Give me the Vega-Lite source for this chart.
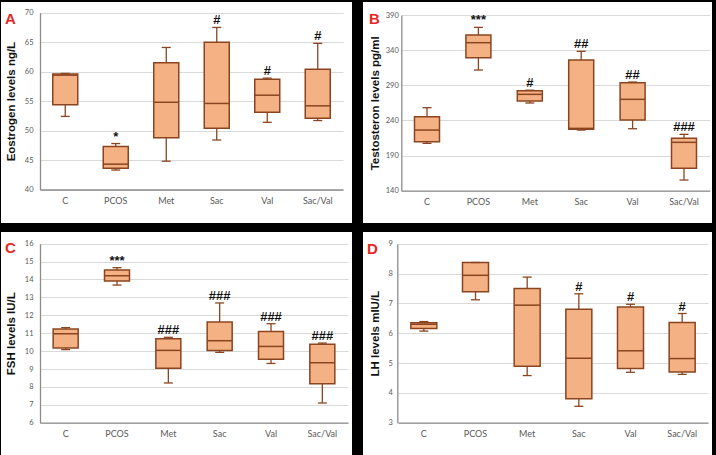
{
  "$schema": "https://vega.github.io/schema/vega-lite/v6.json",
  "background": "black",
  "padding": {"top": 2, "left": 1, "right": 4, "bottom": 0},
  "datasets": {
    "estrogen": [
      {"group": "C", "lo": 52.4, "q1": 54.4, "median": 59.4, "q3": 59.6, "hi": 59.7, "sig": ""},
      {"group": "PCOS", "lo": 43.3, "q1": 43.6, "median": 44.3, "q3": 47.3, "hi": 47.8, "sig": "*"},
      {"group": "Met", "lo": 44.8, "q1": 48.8, "median": 54.8, "q3": 61.5, "hi": 64.1, "sig": ""},
      {"group": "Sac", "lo": 48.4, "q1": 50.4, "median": 54.6, "q3": 65.0, "hi": 67.5, "sig": "#"},
      {"group": "Val", "lo": 51.4, "q1": 53.1, "median": 56.0, "q3": 58.7, "hi": 58.9, "sig": "#"},
      {"group": "Sac/Val", "lo": 51.7, "q1": 52.1, "median": 54.2, "q3": 60.4, "hi": 64.8, "sig": "#"}
    ],
    "testosterone": [
      {"group": "C", "lo": 207.4, "q1": 209.7, "median": 226.3, "q3": 245.3, "hi": 258.1, "sig": ""},
      {"group": "PCOS", "lo": 311.7, "q1": 329.3, "median": 350.6, "q3": 361.5, "hi": 372.4, "sig": "***"},
      {"group": "Met", "lo": 264.8, "q1": 267.6, "median": 277.1, "q3": 282.3, "hi": 283.0, "sig": "#"},
      {"group": "Sac", "lo": 226.3, "q1": 227.3, "median": 228.7, "q3": 326.0, "hi": 338.3, "sig": "##"},
      {"group": "Val", "lo": 228.2, "q1": 240.6, "median": 270.0, "q3": 293.7, "hi": 294.6, "sig": "##"},
      {"group": "Sac/Val", "lo": 155.2, "q1": 171.8, "median": 208.8, "q3": 214.5, "hi": 220.2, "sig": "###"}
    ],
    "fsh": [
      {"group": "C", "lo": 10.08, "q1": 10.17, "median": 10.97, "q3": 11.23, "hi": 11.31, "sig": ""},
      {"group": "PCOS", "lo": 13.69, "q1": 13.91, "median": 14.21, "q3": 14.53, "hi": 14.66, "sig": "***"},
      {"group": "Met", "lo": 8.22, "q1": 9.04, "median": 10.04, "q3": 10.69, "hi": 10.77, "sig": "###"},
      {"group": "Sac", "lo": 9.93, "q1": 10.04, "median": 10.58, "q3": 11.62, "hi": 12.69, "sig": "###"},
      {"group": "Val", "lo": 9.31, "q1": 9.54, "median": 10.26, "q3": 11.1, "hi": 11.53, "sig": "###"},
      {"group": "Sac/Val", "lo": 7.1, "q1": 8.18, "median": 9.35, "q3": 10.38, "hi": 10.45, "sig": "###"}
    ],
    "lh": [
      {"group": "C", "lo": 6.07, "q1": 6.16, "median": 6.3, "q3": 6.35, "hi": 6.39, "sig": ""},
      {"group": "PCOS", "lo": 7.12, "q1": 7.39, "median": 7.94, "q3": 8.37, "hi": 8.37, "sig": ""},
      {"group": "Met", "lo": 4.58, "q1": 4.89, "median": 6.94, "q3": 7.5, "hi": 7.88, "sig": ""},
      {"group": "Sac", "lo": 3.55, "q1": 3.8, "median": 5.16, "q3": 6.8, "hi": 7.32, "sig": "#"},
      {"group": "Val", "lo": 4.69, "q1": 4.82, "median": 5.41, "q3": 6.88, "hi": 6.97, "sig": "#"},
      {"group": "Sac/Val", "lo": 4.62, "q1": 4.7, "median": 5.15, "q3": 6.36, "hi": 6.66, "sig": "#"}
    ]
  },
  "vconcat": [
    {
      "hconcat": [
        {
          "width": 351, "height": 221,
          "data": {"name": "estrogen"},
          "title": {"text": "A", "dx": 4, "offset": -25},
          "encoding": {
            "x": {"field": "group", "type": "nominal", "sort": null,
                  "scale": {"range": [39, 342], "paddingInner": 0.5, "paddingOuter": 0.25},
                  "axis": {"title": null, "offset": -33.5}}
          },
          "layer": [
            {"mark": {"type": "rule", "color": "#8a4520", "strokeWidth": 1.3},
             "encoding": {
               "y": {"field": "lo", "type": "quantitative", "title": "Eostrogen levels ng/L",
                     "scale": {"domain": [40, 70], "range": [187.5, 10.7], "nice": false, "zero": false},
                     "axis": {"values": [40, 45, 50, 55, 60, 65, 70], "offset": -39}},
               "y2": {"field": "hi"}}},
            {"mark": {"type": "bar", "size": 25, "fill": "#f4b183", "stroke": "#8a4520", "strokeWidth": 1.5},
             "encoding": {"y": {"field": "q1", "type": "quantitative", "title": "Eostrogen levels ng/L",
                                "axis": {"values": [40, 45, 50, 55, 60, 65, 70], "offset": -39}}, "y2": {"field": "q3"}}},
            {"mark": {"type": "tick", "size": 25, "thickness": 1.5, "color": "#8a4520", "opacity": 1},
             "encoding": {"y": {"field": "median", "type": "quantitative", "title": "Eostrogen levels ng/L",
                                "axis": {"values": [40, 45, 50, 55, 60, 65, 70], "offset": -39}}}},
            {"mark": {"type": "tick", "size": 9, "thickness": 1.3, "color": "#8a4520", "opacity": 1},
             "encoding": {"y": {"field": "lo", "type": "quantitative", "title": "Eostrogen levels ng/L",
                                "axis": {"values": [40, 45, 50, 55, 60, 65, 70], "offset": -39}}}},
            {"mark": {"type": "tick", "size": 9, "thickness": 1.3, "color": "#8a4520", "opacity": 1},
             "encoding": {"y": {"field": "hi", "type": "quantitative", "title": "Eostrogen levels ng/L",
                                "axis": {"values": [40, 45, 50, 55, 60, 65, 70], "offset": -39}}}},
            {"mark": {"type": "text", "baseline": "alphabetic", "dy": -3, "fontSize": 13, "fontWeight": "bold", "font": "Liberation Sans", "color": "#111111"},
             "encoding": {"y": {"field": "hi", "type": "quantitative", "title": "Eostrogen levels ng/L",
                                "axis": {"values": [40, 45, 50, 55, 60, 65, 70], "offset": -39}}, "text": {"field": "sig"}}}
          ]
        },
        {
          "width": 349, "height": 221,
          "data": {"name": "testosterone"},
          "title": {"text": "B", "dx": 6, "offset": -25},
          "encoding": {
            "x": {"field": "group", "type": "nominal", "sort": null,
                  "scale": {"range": [38.3, 346.7], "paddingInner": 0.5, "paddingOuter": 0.25},
                  "axis": {"title": null, "offset": -32.3}}
          },
          "layer": [
            {"mark": {"type": "rule", "color": "#8a4520", "strokeWidth": 1.3},
             "encoding": {
               "y": {"field": "lo", "type": "quantitative", "title": "Testosteron levels pg/ml",
                     "scale": {"domain": [140, 390], "range": [188.7, 13], "nice": false, "zero": false},
                     "axis": {"values": [140, 190, 240, 290, 340, 390], "offset": -38.3, "labelPadding": 3, "titlePadding": 5}},
               "y2": {"field": "hi"}}},
            {"mark": {"type": "bar", "size": 25, "fill": "#f4b183", "stroke": "#8a4520", "strokeWidth": 1.5},
             "encoding": {"y": {"field": "q1", "type": "quantitative", "title": "Testosteron levels pg/ml",
                                "axis": {"values": [140, 190, 240, 290, 340, 390], "offset": -38.3, "labelPadding": 3, "titlePadding": 5}}, "y2": {"field": "q3"}}},
            {"mark": {"type": "tick", "size": 25, "thickness": 1.5, "color": "#8a4520", "opacity": 1},
             "encoding": {"y": {"field": "median", "type": "quantitative", "title": "Testosteron levels pg/ml",
                                "axis": {"values": [140, 190, 240, 290, 340, 390], "offset": -38.3, "labelPadding": 3, "titlePadding": 5}}}},
            {"mark": {"type": "tick", "size": 9, "thickness": 1.3, "color": "#8a4520", "opacity": 1},
             "encoding": {"y": {"field": "lo", "type": "quantitative", "title": "Testosteron levels pg/ml",
                                "axis": {"values": [140, 190, 240, 290, 340, 390], "offset": -38.3, "labelPadding": 3, "titlePadding": 5}}}},
            {"mark": {"type": "tick", "size": 9, "thickness": 1.3, "color": "#8a4520", "opacity": 1},
             "encoding": {"y": {"field": "hi", "type": "quantitative", "title": "Testosteron levels pg/ml",
                                "axis": {"values": [140, 190, 240, 290, 340, 390], "offset": -38.3, "labelPadding": 3, "titlePadding": 5}}}},
            {"mark": {"type": "text", "baseline": "alphabetic", "dy": -3, "fontSize": 13, "fontWeight": "bold", "font": "Liberation Sans", "color": "#111111"},
             "encoding": {"y": {"field": "hi", "type": "quantitative", "title": "Testosteron levels pg/ml",
                                "axis": {"values": [140, 190, 240, 290, 340, 390], "offset": -38.3, "labelPadding": 3, "titlePadding": 5}}, "text": {"field": "sig"}}}
          ]
        }
      ]
    },
    {
      "hconcat": [
        {
          "width": 351, "height": 223,
          "data": {"name": "fsh"},
          "title": {"text": "C", "dx": 4, "offset": -24},
          "encoding": {
            "x": {"field": "group", "type": "nominal", "sort": null,
                  "scale": {"range": [39, 347], "paddingInner": 0.5, "paddingOuter": 0.25},
                  "axis": {"title": null, "offset": -32.3}}
          },
          "layer": [
            {"mark": {"type": "rule", "color": "#8a4520", "strokeWidth": 1.3},
             "encoding": {
               "y": {"field": "lo", "type": "quantitative", "title": "FSH levels IU/L",
                     "scale": {"domain": [6, 16], "range": [190.7, 11.7], "nice": false, "zero": false},
                     "axis": {"values": [6, 7, 8, 9, 10, 11, 12, 13, 14, 15, 16], "offset": -39}},
               "y2": {"field": "hi"}}},
            {"mark": {"type": "bar", "size": 25, "fill": "#f4b183", "stroke": "#8a4520", "strokeWidth": 1.5},
             "encoding": {"y": {"field": "q1", "type": "quantitative", "title": "FSH levels IU/L",
                                "axis": {"values": [6, 7, 8, 9, 10, 11, 12, 13, 14, 15, 16], "offset": -39}}, "y2": {"field": "q3"}}},
            {"mark": {"type": "tick", "size": 25, "thickness": 1.5, "color": "#8a4520", "opacity": 1},
             "encoding": {"y": {"field": "median", "type": "quantitative", "title": "FSH levels IU/L",
                                "axis": {"values": [6, 7, 8, 9, 10, 11, 12, 13, 14, 15, 16], "offset": -39}}}},
            {"mark": {"type": "tick", "size": 9, "thickness": 1.3, "color": "#8a4520", "opacity": 1},
             "encoding": {"y": {"field": "lo", "type": "quantitative", "title": "FSH levels IU/L",
                                "axis": {"values": [6, 7, 8, 9, 10, 11, 12, 13, 14, 15, 16], "offset": -39}}}},
            {"mark": {"type": "tick", "size": 9, "thickness": 1.3, "color": "#8a4520", "opacity": 1},
             "encoding": {"y": {"field": "hi", "type": "quantitative", "title": "FSH levels IU/L",
                                "axis": {"values": [6, 7, 8, 9, 10, 11, 12, 13, 14, 15, 16], "offset": -39}}}},
            {"mark": {"type": "text", "baseline": "alphabetic", "dy": -3, "fontSize": 13, "fontWeight": "bold", "font": "Liberation Sans", "color": "#111111"},
             "encoding": {"y": {"field": "hi", "type": "quantitative", "title": "FSH levels IU/L",
                                "axis": {"values": [6, 7, 8, 9, 10, 11, 12, 13, 14, 15, 16], "offset": -39}}, "text": {"field": "sig"}}}
          ]
        },
        {
          "width": 349, "height": 223,
          "data": {"name": "lh"},
          "title": {"text": "D", "dx": 4, "offset": -24.7},
          "encoding": {
            "x": {"field": "group", "type": "nominal", "sort": null,
                  "scale": {"range": [35, 345], "paddingInner": 0.5, "paddingOuter": 0.25},
                  "axis": {"title": null, "offset": -32.3}}
          },
          "layer": [
            {"mark": {"type": "rule", "color": "#8a4520", "strokeWidth": 1.3},
             "encoding": {
               "y": {"field": "lo", "type": "quantitative", "title": "LH levels mIU/L",
                     "scale": {"domain": [3, 9], "range": [190.7, 11.7], "nice": false, "zero": false},
                     "axis": {"values": [3, 4, 5, 6, 7, 8, 9], "offset": -34.3, "labelPadding": 5}},
               "y2": {"field": "hi"}}},
            {"mark": {"type": "bar", "size": 26, "fill": "#f4b183", "stroke": "#8a4520", "strokeWidth": 1.5},
             "encoding": {"y": {"field": "q1", "type": "quantitative", "title": "LH levels mIU/L",
                                "axis": {"values": [3, 4, 5, 6, 7, 8, 9], "offset": -34.3, "labelPadding": 5}}, "y2": {"field": "q3"}}},
            {"mark": {"type": "tick", "size": 26, "thickness": 1.5, "color": "#8a4520", "opacity": 1},
             "encoding": {"y": {"field": "median", "type": "quantitative", "title": "LH levels mIU/L",
                                "axis": {"values": [3, 4, 5, 6, 7, 8, 9], "offset": -34.3, "labelPadding": 5}}}},
            {"mark": {"type": "tick", "size": 9, "thickness": 1.3, "color": "#8a4520", "opacity": 1},
             "encoding": {"y": {"field": "lo", "type": "quantitative", "title": "LH levels mIU/L",
                                "axis": {"values": [3, 4, 5, 6, 7, 8, 9], "offset": -34.3, "labelPadding": 5}}}},
            {"mark": {"type": "tick", "size": 9, "thickness": 1.3, "color": "#8a4520", "opacity": 1},
             "encoding": {"y": {"field": "hi", "type": "quantitative", "title": "LH levels mIU/L",
                                "axis": {"values": [3, 4, 5, 6, 7, 8, 9], "offset": -34.3, "labelPadding": 5}}}},
            {"mark": {"type": "text", "baseline": "alphabetic", "dy": -3, "fontSize": 13, "fontWeight": "bold", "font": "Liberation Sans", "color": "#111111"},
             "encoding": {"y": {"field": "hi", "type": "quantitative", "title": "LH levels mIU/L",
                                "axis": {"values": [3, 4, 5, 6, 7, 8, 9], "offset": -34.3, "labelPadding": 5}}, "text": {"field": "sig"}}}
          ]
        }
      ]
    }
  ],
  "spacing": 9,
  "config": {
    "concat": {"spacing": 11},
    "view": {"fill": "white", "stroke": null},
    "title": {"anchor": "start", "frame": "group", "baseline": "alphabetic", "color": "#e8261f", "font": "Liberation Sans", "fontSize": 15, "fontWeight": "bold"},
    "axis": {
      "labelFont": "Lato", "labelColor": "#595959", "labelOverlap": false,
      "ticks": false, "domainColor": "#8c8c8c", "domainWidth": 1.3,
      "gridColor": "#d9d9d9", "gridWidth": 1,
      "titleFont": "Liberation Sans", "titleFontWeight": "bold", "titleFontSize": 11.5, "titleColor": "#111111"
    },
    "axisX": {"grid": false, "labelAngle": 0, "labelPadding": 7, "labelFontSize": 9},
    "axisY": {"grid": true, "labelPadding": 7, "titlePadding": 7.5, "labelFontSize": 7.5}
  }
}
